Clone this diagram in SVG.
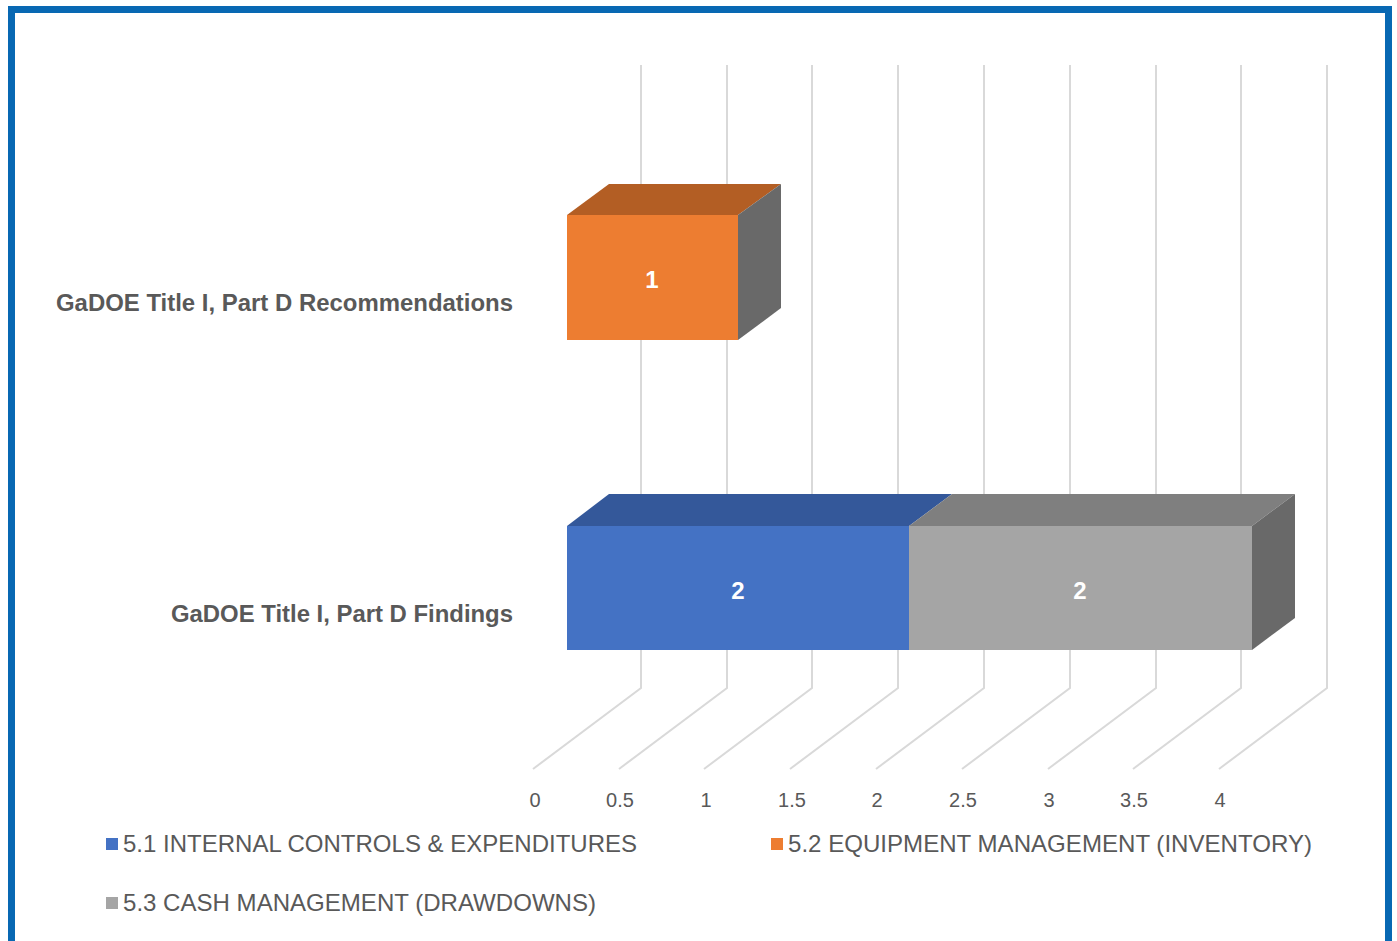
<svg xmlns="http://www.w3.org/2000/svg" width="1397" height="941" viewBox="0 0 1397 941">
<style>
.grid{stroke:#D9D9D9;stroke-width:2;fill:none}
.cat{font-family:"Liberation Sans",Arial,sans-serif;font-weight:bold;font-size:23px;fill:#595959;text-anchor:end}
.tick{font-family:"Liberation Sans",Arial,sans-serif;font-size:20px;fill:#595959;text-anchor:middle}
.val{font-family:"Liberation Sans",Arial,sans-serif;font-weight:bold;font-size:24px;fill:#FFFFFF;text-anchor:middle}
.leg{font-family:"Liberation Sans",Arial,sans-serif;font-size:24px;fill:#595959}
</style>
<rect x="0" y="0" width="1397" height="941" fill="#FFFFFF"/>
<rect x="11.5" y="9.5" width="1377" height="960" fill="none" stroke="#0868B3" stroke-width="7"/>
<g id="gridlines">
<polyline class="grid" points="641,65 641,688 533,769"/>
<polyline class="grid" points="727,65 727,688 619,769"/>
<polyline class="grid" points="812,65 812,688 704,769"/>
<polyline class="grid" points="898,65 898,688 790,769"/>
<polyline class="grid" points="984,65 984,688 876,769"/>
<polyline class="grid" points="1070,65 1070,688 962,769"/>
<polyline class="grid" points="1156,65 1156,688 1048,769"/>
<polyline class="grid" points="1241,65 1241,688 1133,769"/>
<polyline class="grid" points="1327,65 1327,688 1219,769"/>
</g>
<g id="axis-labels">
<text class="tick" x="535" y="807">0</text>
<text class="tick" x="620" y="807">0.5</text>
<text class="tick" x="706" y="807">1</text>
<text class="tick" x="792" y="807">1.5</text>
<text class="tick" x="877" y="807">2</text>
<text class="tick" x="963" y="807">2.5</text>
<text class="tick" x="1049" y="807">3</text>
<text class="tick" x="1134" y="807">3.5</text>
<text class="tick" x="1220" y="807">4</text>
</g>
<g id="bar-recommendations-52">
<polygon points="567,215 609,184 781,184 738,215" fill="#B35E24"/>
<polygon points="738,215 781,184 781,308 738,340" fill="#696969"/>
<rect x="567" y="215" width="171" height="125" fill="#ED7D31"/>
<text class="val" x="652" y="288">1</text>
</g>
<g id="bar-findings-51">
<polygon points="567,526 609,494 952,494 909,526" fill="#34589A"/>
<rect x="567" y="526" width="342" height="124" fill="#4472C4"/>
<text class="val" x="738" y="599">2</text>
</g>
<g id="bar-findings-53">
<polygon points="909,526 952,494 1295,494 1252,526" fill="#7F7F7F"/>
<polygon points="1252,526 1295,494 1295,618 1252,650" fill="#696969"/>
<rect x="909" y="526" width="343" height="124" fill="#A5A5A5"/>
<text class="val" x="1080" y="599">2</text>
</g>
<g id="category-labels">
<text class="cat" x="513" y="311" textLength="457" lengthAdjust="spacingAndGlyphs">GaDOE Title I, Part D Recommendations</text>
<text class="cat" x="513" y="622" textLength="342" lengthAdjust="spacingAndGlyphs">GaDOE Title I, Part D Findings</text>
</g>
<g id="legend">
<rect x="106" y="838" width="12" height="12" fill="#4472C4"/>
<text class="leg" x="123" y="852" textLength="514" lengthAdjust="spacingAndGlyphs">5.1 INTERNAL CONTROLS &amp; EXPENDITURES</text>
<rect x="771" y="838" width="12" height="12" fill="#ED7D31"/>
<text class="leg" x="788" y="852" textLength="524" lengthAdjust="spacingAndGlyphs">5.2 EQUIPMENT MANAGEMENT (INVENTORY)</text>
<rect x="106" y="897" width="12" height="12" fill="#A5A5A5"/>
<text class="leg" x="123" y="911" textLength="473" lengthAdjust="spacingAndGlyphs">5.3 CASH MANAGEMENT (DRAWDOWNS)</text>
</g>
</svg>
